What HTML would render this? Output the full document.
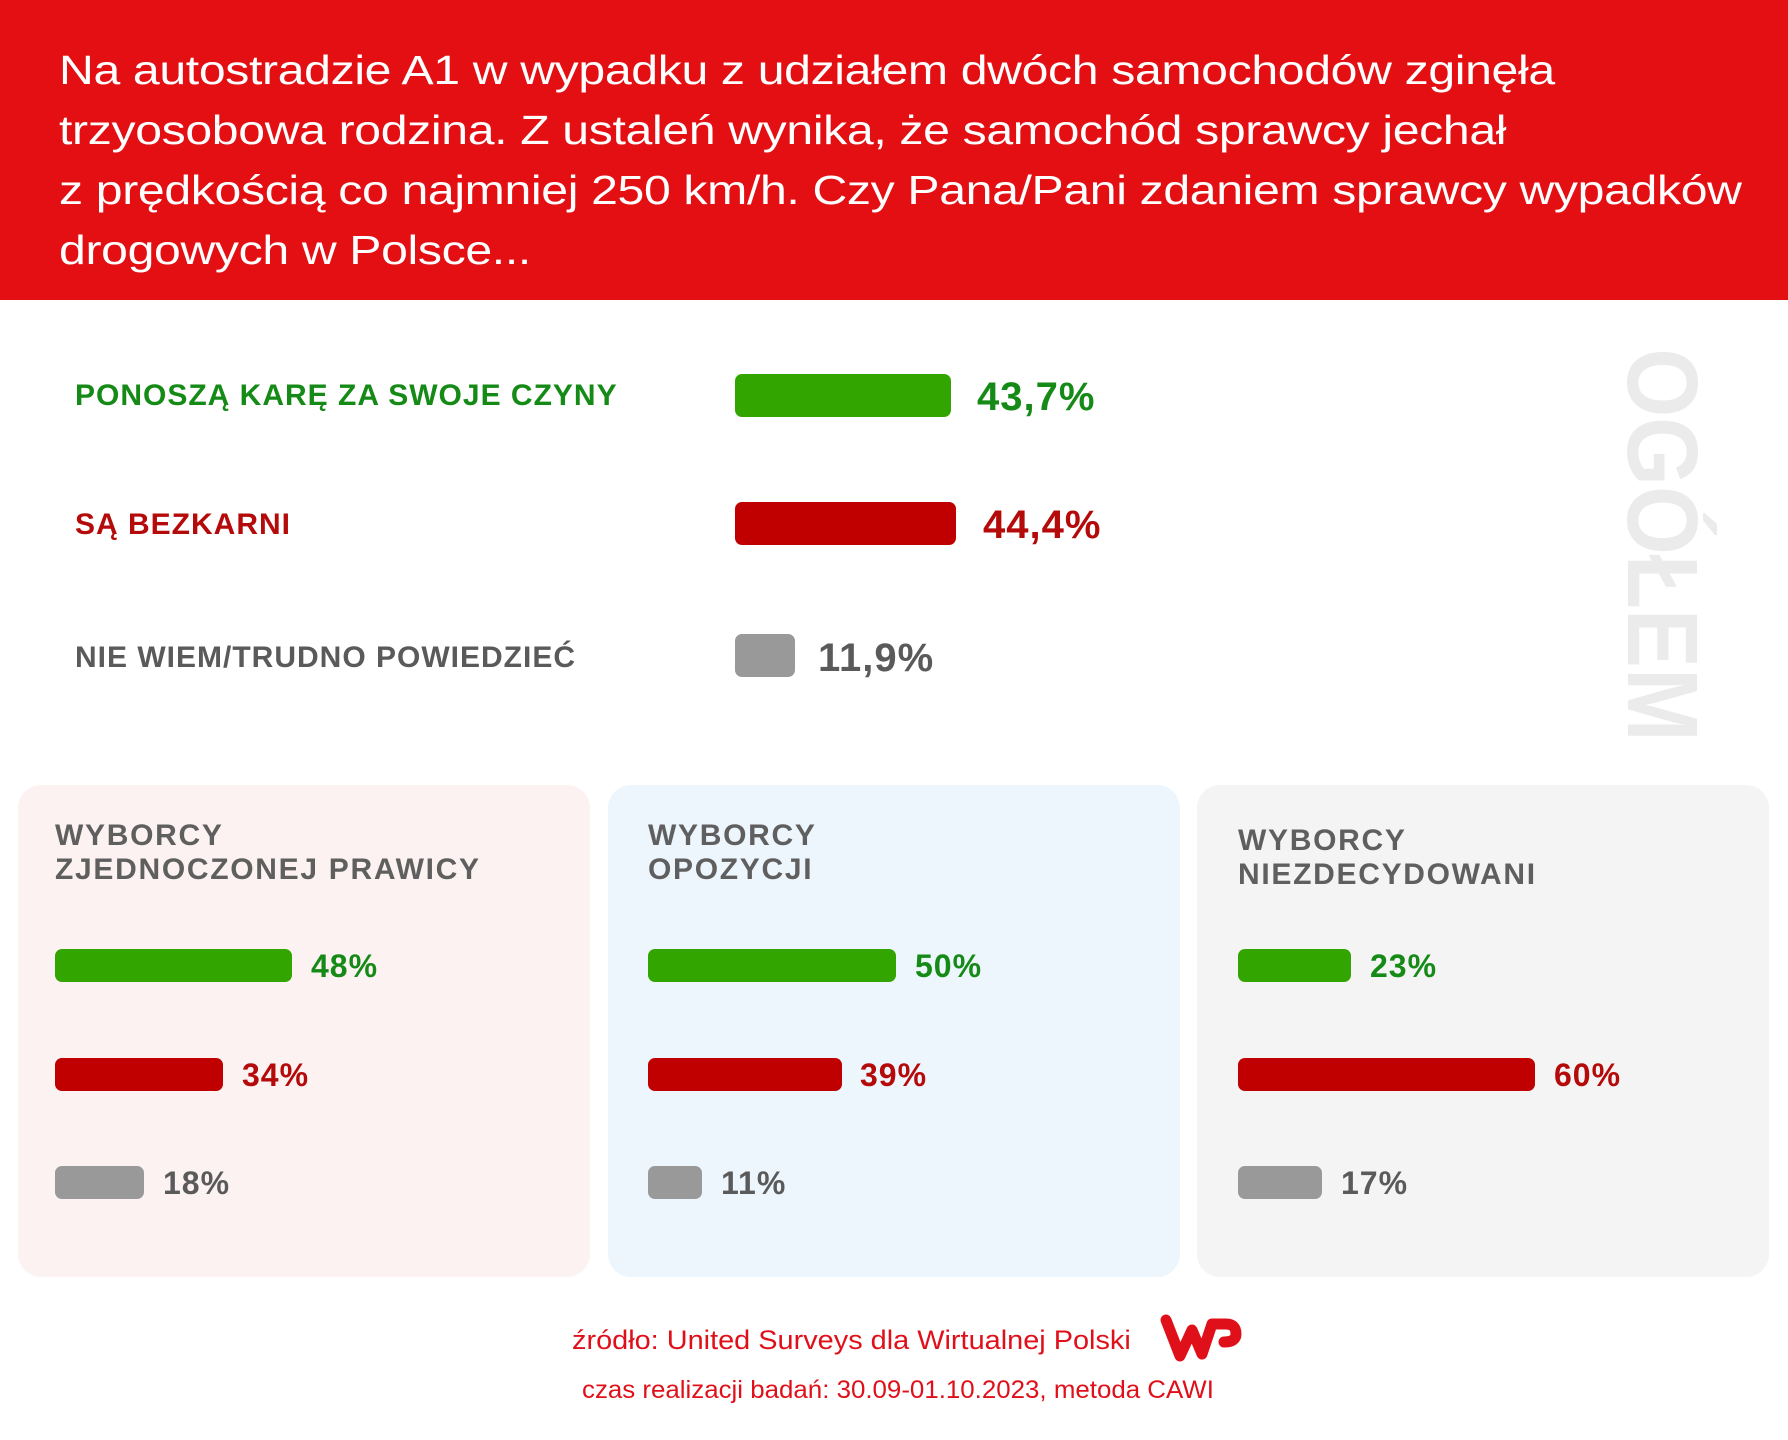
<!DOCTYPE html>
<html><head><meta charset="utf-8"><style>
body{margin:0;width:1788px;height:1440px;position:relative;background:#fff;font-family:"Liberation Sans",sans-serif;overflow:hidden}
.a{position:absolute;white-space:nowrap}
.hd{position:absolute;left:0;top:0;width:1788px;height:300px;background:#e30f12}
.t{left:59px;top:40px;color:#fff;font-size:41px;line-height:60px;letter-spacing:-0.3px;transform:scaleX(1.175);transform-origin:0 0}
.lb{font-weight:bold;font-size:30px;line-height:30px;letter-spacing:1px}
.v{font-weight:bold;font-size:40px;line-height:40px;letter-spacing:1px}
.pv{font-weight:bold;font-size:32px;line-height:32px;letter-spacing:1px}
.b{position:absolute;border-radius:7px}
.g{background:#33a500}.r{background:#c00000}.y{background:#999}
.cg{color:#158a16}.cr{color:#b50a0a}.cy{color:#5a5a5a}
.p{position:absolute;top:785px;height:492px;width:572px;border-radius:23px}
.ph{font-weight:bold;font-size:30px;line-height:34px;color:#5f5f5f;letter-spacing:1.7px}
</style></head><body>
<div class="hd"></div>
<div class="a t">Na autostradzie A1 w wypadku z udziałem dwóch samochodów zginęła<br>trzyosobowa rodzina. Z ustaleń wynika, że samochód sprawcy jechał<br>z prędkością co najmniej 250 km/h. Czy Pana/Pani zdaniem sprawcy wypadków<br>drogowych w Polsce...</div>

<div class="a lb cg" style="left:75px;top:381px">PONOSZĄ KARĘ ZA SWOJE CZYNY</div>
<div class="a lb cr" style="left:75px;top:510px">SĄ BEZKARNI</div>
<div class="a lb cy" style="left:75px;top:643px">NIE WIEM/TRUDNO POWIEDZIEĆ</div>
<div class="b g" style="left:735px;top:374px;width:216px;height:43px"></div>
<div class="b r" style="left:735px;top:502px;width:221px;height:43px"></div>
<div class="b y" style="left:735px;top:634px;width:60px;height:43px"></div>
<div class="a v cg" style="left:977px;top:377px">43,7%</div>
<div class="a v cr" style="left:983px;top:505px">44,4%</div>
<div class="a v cy" style="left:818px;top:638px">11,9%</div>

<div class="a" style="left:1662px;top:545px;transform:translate(-50%,-50%) rotate(90deg) scaleX(0.885);font-weight:bold;font-size:100px;line-height:100px;color:#ebebeb">OGÓŁEM</div>

<div class="p" style="left:18px;background:#fdf2f2"></div>
<div class="p" style="left:608px;background:#edf5fd"></div>
<div class="p" style="left:1197px;background:#f4f4f4"></div>

<div class="a ph" style="left:55px;top:819px">WYBORCY<br>ZJEDNOCZONEJ PRAWICY</div>
<div class="a ph" style="left:648px;top:819px">WYBORCY<br>OPOZYCJI</div>
<div class="a ph" style="left:1238px;top:824px">WYBORCY<br>NIEZDECYDOWANI</div>

<div class="b g" style="left:55px;top:949px;width:237px;height:33px"></div>
<div class="b r" style="left:55px;top:1058px;width:168px;height:33px"></div>
<div class="b y" style="left:55px;top:1166px;width:89px;height:33px"></div>
<div class="a pv cg" style="left:311px;top:950px">48%</div>
<div class="a pv cr" style="left:242px;top:1059px">34%</div>
<div class="a pv cy" style="left:163px;top:1167px">18%</div>

<div class="b g" style="left:648px;top:949px;width:248px;height:33px"></div>
<div class="b r" style="left:648px;top:1058px;width:194px;height:33px"></div>
<div class="b y" style="left:648px;top:1166px;width:54px;height:33px"></div>
<div class="a pv cg" style="left:915px;top:950px">50%</div>
<div class="a pv cr" style="left:860px;top:1059px">39%</div>
<div class="a pv cy" style="left:721px;top:1167px">11%</div>

<div class="b g" style="left:1238px;top:949px;width:113px;height:33px"></div>
<div class="b r" style="left:1238px;top:1058px;width:297px;height:33px"></div>
<div class="b y" style="left:1238px;top:1166px;width:84px;height:33px"></div>
<div class="a pv cg" style="left:1370px;top:950px">23%</div>
<div class="a pv cr" style="left:1554px;top:1059px">60%</div>
<div class="a pv cy" style="left:1341px;top:1167px">17%</div>

<div class="a" style="left:572px;top:1324px;font-size:27px;line-height:32px;color:#e0101a;transform:scaleX(1.07);transform-origin:0 0">źródło: United Surveys dla Wirtualnej Polski</div>
<svg class="a" style="left:1152px;top:1310px" width="92" height="56" viewBox="0 0 92 56">
<path d="M14 10 L28 46 L40 20 L50 44 L60 14 L74 14 Q84 14 84 24 Q84 32 72 32" fill="none" stroke="#e0101a" stroke-width="11" stroke-linecap="round" stroke-linejoin="round"/>
</svg>
<div class="a" style="left:582px;top:1374px;font-size:25px;line-height:32px;color:#e0101a;transform:scaleX(1.035);transform-origin:0 0">czas realizacji badań: 30.09-01.10.2023, metoda CAWI</div>
</body></html>
